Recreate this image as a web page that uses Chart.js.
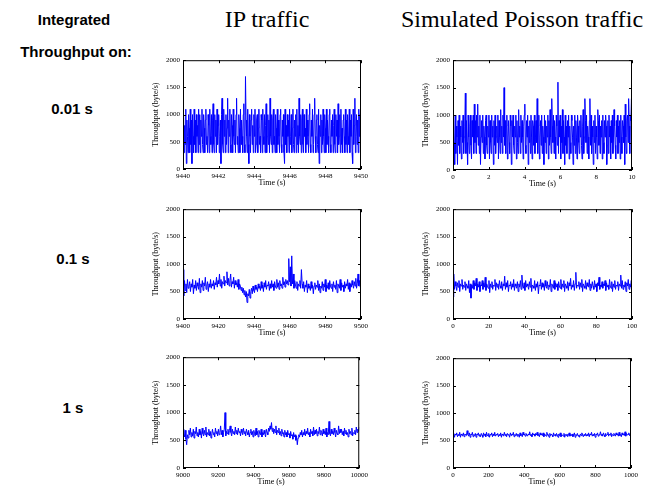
<!DOCTYPE html>
<html>
<head>
<meta charset="utf-8">
<script src="https://cdn.jsdelivr.net/npm/chart.js@4.4.0/dist/chart.umd.min.js"></script>
<style>
  body { margin: 0; background: #fff; }
  #page { position: relative; width: 646px; height: 489px; overflow: hidden; background: #fff; }
  .lbl { position: absolute; transform: translate(-50%, -50%); white-space: nowrap; color: #000;
         font-family: "Liberation Sans", Arial, sans-serif; font-weight: bold; font-size: 15px; }
  .ttl { position: absolute; transform: translate(-50%, -50%); white-space: nowrap; color: #000;
         font-family: "Liberation Serif", "Times New Roman", serif; font-size: 24px; }
  .plot { position: absolute; }
</style>
</head>
<body>
<div id="page">
  <div class="lbl" style="left:74px; top:19px;">Integrated</div>
  <div class="lbl" style="left:76px; top:51px;">Throughput on:</div>
  <div class="lbl" style="left:72px; top:108px;">0.01 s</div>
  <div class="lbl" style="left:73px; top:258px;">0.1 s</div>
  <div class="lbl" style="left:73px; top:407px;">1 s</div>
  <div class="ttl" style="left:267px; top:19px;">IP traffic</div>
  <div class="ttl" style="left:522px; top:19px;">Simulated Poisson traffic</div>
</div>

<script>
// throughput readings (byte/s)
const ipFine = [
  600, 1000, 300, 800, 450, 1100, 100, 900, 600, 300, 1000, 750, 300, 1100, 450, 900, 100, 1000, 600, 300,
  1100, 450, 900, 300, 1000, 600, 800, 300, 1100, 450, 1000, 300, 900, 600, 1100, 450, 300, 1000, 750, 300,
  900, 1100, 450, 600, 300, 1000, 800, 300, 1100, 600, 450, 1000, 300, 900, 1200, 450, 300, 1000, 600, 900,
  300, 1100, 450, 800, 1000, 300, 600, 900, 100, 1000, 1300, 450, 300, 1100, 600, 900, 300, 1000, 450, 750,
  1300, 300, 900, 600, 1100, 450, 300, 1000, 800, 300, 1100, 600, 450, 900, 300, 1000, 1300, 450, 600, 300,
  1000, 750, 300, 1100, 450, 900, 600, 300, 1000, 1200, 450, 300, 1700, 900, 600, 300, 1100, 450, 100, 1000,
  600, 300, 900, 1100, 450, 800, 300, 1000, 600, 1100, 300, 450, 900, 1000, 300, 750, 1100, 450, 600, 300,
  1000, 900, 300, 1100, 600, 450, 1000, 300, 800, 1200, 300, 600, 1000, 450, 900, 300, 1300, 600, 450, 1000,
  300, 900, 1100, 450, 600, 300, 1000, 750, 300, 1100, 450, 900, 600, 300, 1000, 1100, 450, 300, 900, 600,
  1000, 300, 100, 1100, 450, 800, 300, 1000, 600, 900, 300, 1100, 450, 600, 1000, 300, 750, 1100, 450, 300,
  900, 600, 1000, 300, 1100, 450, 800, 300, 1300, 600, 450, 1000, 300, 900, 1100, 450, 300, 1000, 600, 750,
  300, 1100, 450, 900, 600, 300, 1000, 1200, 450, 300, 900, 600, 1100, 300, 450, 1000, 1300, 600, 300, 900,
  1000, 450, 300, 1100, 100, 800, 600, 1000, 300, 900, 450, 1100, 600, 300, 1000, 750, 300, 1100, 450, 900,
  600, 300, 1000, 1100, 450, 300, 900, 600, 1000, 300, 800, 1100, 450, 300, 1000, 600, 900, 300, 1200, 450,
  600, 1000, 300, 1100, 450, 750, 300, 900, 1000, 600, 300, 1100, 450, 900, 300, 1000, 600, 450, 1100, 300,
  900, 600, 1000, 300, 100, 1100, 450, 800, 1300, 300, 600, 1000, 450, 900, 300, 1100, 600, 1000, 300, 700
];
const poFine = [
  200, 900, 500, 100, 1000, 300, 800, 600, 100, 900, 450, 1000, 300, 800, 600, 200, 900, 500, 1000, 300,
  600, 800, 1400, 300, 900, 500, 100, 1000, 600, 300, 800, 1000, 450, 200, 900, 600, 1000, 300, 1200, 500,
  900, 300, 1000, 600, 1200, 450, 800, 300, 1000, 100, 600, 900, 500, 1000, 300, 800, 600, 200, 900, 1000,
  450, 300, 800, 600, 1000, 200, 900, 500, 300, 1000, 600, 800, 100, 900, 450, 1000, 300, 600, 800, 500,
  1000, 200, 900, 600, 300, 1100, 500, 800, 300, 1000, 600, 1500, 450, 900, 300, 800, 1000, 200, 600, 900,
  500, 300, 1000, 800, 100, 900, 600, 1000, 450, 300, 800, 600, 1000, 200, 900, 500, 300, 1100, 600, 800,
  300, 1000, 500, 900, 600, 200, 800, 1000, 1200, 450, 300, 900, 600, 1000, 100, 800, 500, 900, 300, 1000,
  600, 200, 900, 800, 450, 1000, 300, 600, 900, 500, 1300, 300, 800, 1000, 200, 600, 900, 450, 1000, 300,
  800, 600, 100, 1000, 500, 900, 300, 800, 600, 1000, 200, 900, 450, 1100, 600, 300, 1300, 800, 500, 1000,
  300, 900, 600, 200, 1000, 800, 450, 1600, 300, 900, 600, 1000, 200, 800, 500, 1100, 300, 900, 600, 100,
  1000, 450, 800, 300, 900, 600, 1000, 200, 800, 500, 300, 1000, 900, 600, 100, 800, 450, 1000, 300, 900,
  600, 200, 1000, 800, 500, 300, 900, 600, 1000, 450, 200, 800, 1100, 300, 600, 1300, 900, 500, 1000, 300,
  800, 600, 200, 900, 1300, 450, 1000, 300, 800, 600, 100, 900, 500, 1000, 300, 800, 600, 200, 1100, 900,
  450, 1000, 300, 800, 600, 900, 200, 1000, 500, 300, 900, 600, 1000, 800, 100, 450, 900, 300, 1000, 600,
  800, 200, 900, 500, 1000, 300, 600, 1100, 800, 450, 200, 900, 600, 1000, 300, 800, 500, 900, 200, 1000,
  600, 300, 900, 800, 500, 1000, 100, 1200, 600, 300, 900, 1000, 500, 1300, 800, 300, 1000, 900, 1300, 600
];
const ipMid = [
  900, 420, 700, 520, 640, 480, 720, 560, 600, 680, 500, 640, 580, 720, 460, 620, 560, 700, 520, 660,
  600, 540, 740, 480, 640, 580, 700, 520, 660, 600, 760, 540, 620, 680, 500, 640, 580, 720, 560, 640,
  600, 700, 540, 660, 620, 760, 580, 700, 640, 820, 600, 720, 560, 680, 640, 780, 600, 700, 660, 860,
  620, 740, 600, 700, 820, 580, 680, 640, 760, 560, 700, 620, 660, 580, 720, 540, 640, 600, 520, 580,
  480, 560, 440, 520, 400, 500, 300, 460, 420, 540, 380, 500, 560, 460, 600, 520, 480, 620, 540, 580,
  500, 640, 560, 600, 520, 680, 560, 620, 500, 660, 580, 700, 540, 620, 600, 680, 520, 640, 560, 700,
  580, 640, 520, 680, 600, 560, 720, 580, 660, 540, 700, 600, 640, 560, 760, 620, 680, 580, 720, 640,
  700, 620, 1100, 680, 950, 600, 1150, 640, 820, 560, 700, 620, 560, 680, 520, 640, 600, 700, 560, 900,
  640, 560, 680, 500, 620, 580, 700, 480, 640, 560, 600, 520, 680, 560, 620, 460, 600, 660, 540, 620,
  580, 700, 520, 640, 480, 600, 560, 680, 520, 640, 580, 720, 500, 620, 560, 660, 540, 700, 600, 560,
  640, 500, 680, 580, 620, 540, 700, 480, 640, 600, 560, 720, 520, 660, 580, 620, 500, 680, 560, 640,
  600, 720, 540, 660, 500, 640, 580, 700, 620, 560, 680, 600, 740, 560, 640, 820, 600, 700, 580, 660
];
const poMid = [
  400, 820, 540, 680, 600, 520, 660, 580, 700, 500, 640, 600, 720, 540, 620, 580, 680, 520, 640, 600,
  560, 700, 480, 640, 380, 620, 560, 700, 540, 660, 600, 740, 520, 640, 580, 680, 500, 620, 600, 700,
  540, 660, 580, 760, 520, 640, 600, 560, 700, 480, 640, 580, 680, 540, 620, 600, 720, 520, 660, 580,
  640, 540, 700, 600, 560, 680, 520, 640, 600, 780, 540, 660, 580, 700, 500, 620, 600, 680, 540, 640,
  580, 720, 520, 640, 600, 560, 680, 500, 640, 580, 700, 540, 800, 600, 560, 660, 520, 700, 580, 640,
  600, 540, 680, 580, 740, 500, 620, 600, 560, 700, 520, 640, 580, 680, 460, 620, 600, 720, 540, 660,
  580, 640, 520, 700, 600, 560, 680, 540, 620, 580, 720, 500, 640, 600, 560, 700, 540, 660, 580, 640,
  520, 680, 600, 560, 720, 540, 640, 580, 700, 500, 640, 600, 560, 680, 520, 660, 600, 740, 540, 620,
  580, 700, 520, 640, 850, 560, 620, 600, 680, 540, 660, 580, 720, 500, 640, 600, 560, 700, 540, 660,
  600, 580, 720, 520, 640, 560, 680, 600, 540, 700, 580, 640, 500, 660, 600, 760, 540, 620, 580, 680,
  560, 640, 600, 700, 520, 660, 580, 620, 540, 720, 600, 560, 680, 500, 640, 580, 700, 540, 620, 600,
  680, 520, 640, 600, 800, 560, 700, 540, 620, 580, 680, 500, 660, 600, 720, 540, 640, 580, 700, 620
];
const ipCoarse = [
  700, 620, 560, 680, 520, 420, 600, 540, 680, 600, 720, 560, 640, 580, 700, 540, 660, 620, 740, 580,
  640, 560, 700, 600, 660, 540, 720, 620, 580, 680, 600, 740, 560, 640, 600, 700, 580, 660, 540, 620,
  700, 600, 640, 560, 720, 620, 660, 580, 700, 600, 640, 760, 600, 680, 560, 640, 700, 1000, 580, 660,
  620, 700, 600, 680, 760, 640, 580, 700, 620, 660, 600, 740, 620, 680, 600, 720, 640, 660, 580, 700,
  640, 600, 720, 620, 660, 580, 700, 640, 600, 680, 560, 640, 700, 600, 660, 560, 680, 620, 580, 720,
  600, 660, 560, 680, 620, 600, 700, 560, 640, 600, 680, 620, 560, 700, 640, 600, 720, 660, 760, 700,
  820, 660, 720, 620, 700, 640, 760, 600, 680, 640, 720, 600, 660, 580, 700, 620, 640, 560, 680, 600,
  640, 560, 680, 600, 620, 540, 660, 580, 600, 520, 640, 560, 600, 500, 580, 420, 540, 600, 560, 640,
  600, 680, 560, 640, 600, 700, 580, 660, 620, 720, 600, 640, 560, 700, 620, 660, 580, 740, 600, 680,
  620, 700, 580, 660, 620, 740, 600, 680, 640, 580, 700, 620, 660, 600, 720, 560, 640, 600, 840, 620,
  580, 700, 620, 660, 600, 720, 640, 560, 680, 620, 600, 760, 620, 700, 640, 700, 600, 660, 580, 720,
  620, 680, 600, 640, 560, 700, 620, 660, 600, 720, 580, 640, 620, 680, 600, 740, 640, 700, 660, 740
];
const poCoarse = [
  580, 630, 560, 620, 600, 640, 570, 610, 590, 650, 560, 620, 600, 580, 640, 570, 620, 600, 590, 680,
  610, 580, 640, 560, 620, 600, 650, 570, 610, 590, 630, 560, 620, 600, 640, 580, 610, 570, 630, 600,
  560, 640, 590, 620, 570, 650, 600, 580, 630, 560, 610, 600, 640, 570, 620, 590, 650, 580, 610, 600,
  630, 570, 610, 590, 640, 560, 620, 600, 580, 650, 590, 620, 570, 630, 600, 610, 560, 640, 590, 620,
  600, 650, 570, 610, 590, 630, 580, 620, 600, 560, 640, 590, 610, 570, 650, 600, 620, 580, 630, 600,
  580, 620, 600, 660, 590, 610, 570, 640, 600, 620, 580, 630, 600, 650, 590, 610, 570, 640, 600, 620,
  590, 640, 570, 620, 600, 580, 650, 600, 610, 560, 630, 590, 620, 600, 570, 640, 590, 610, 580, 630,
  600, 560, 620, 590, 640, 570, 610, 600, 580, 630, 560, 610, 590, 620, 570, 600, 640, 580, 610, 590,
  620, 570, 600, 640, 560, 610, 590, 630, 580, 600, 560, 620, 590, 640, 600, 570, 610, 590, 630, 580,
  610, 590, 640, 570, 620, 600, 650, 580, 610, 590, 630, 560, 620, 600, 640, 580, 610, 600, 660, 590,
  620, 580, 640, 600, 570, 630, 590, 610, 650, 580, 620, 600, 640, 570, 610, 590, 630, 600, 580, 640,
  600, 620, 580, 650, 590, 610, 570, 640, 600, 620, 590, 660, 580, 630, 600, 610, 640, 590, 620, 600
];

// time ranges shown on each x axis
const ipFineRange = [9440, 9450];
const poFineRange = [0, 10];
const ipMidRange = [9400, 9500];
const poMidRange = [0, 100];
const ipCoarseRange = [9000, 10000];
const poCoarseRange = [0, 1000];
const yTicks = [0, 500, 1000, 1500, 2000];

const PAD_L = 32, PAD_T = 6, PAD_R = 9, PAD_B = 19;
const serif = '"Liberation Serif", "Times New Roman", serif';

const plots = [
  { left: 183, top: 59,  w: 179, h: 110, values: ipFine,   range: ipFineRange,   step: 2 },
  { left: 453, top: 59,  w: 179, h: 111, values: poFine,   range: poFineRange,   step: 2 },
  { left: 183, top: 208, w: 179, h: 111, values: ipMid,    range: ipMidRange,    step: 20 },
  { left: 453, top: 208, w: 179, h: 111, values: poMid,    range: poMidRange,    step: 20 },
  { left: 183, top: 356, w: 179, h: 112, values: ipCoarse, range: ipCoarseRange, step: 200 },
  { left: 453, top: 357, w: 179, h: 111, values: poCoarse, range: poCoarseRange, step: 200 }
];

// matlab style frame with inward ticks
const framePlugin = {
  id: 'frame',
  afterDraw(chart) {
    const { ctx, chartArea: a, scales } = chart;
    ctx.save();
    ctx.strokeStyle = '#000';
    ctx.lineWidth = 1;
    ctx.strokeRect(a.left + 0.5, a.top + 0.5, a.right - a.left - 1, a.bottom - a.top - 1);
    ctx.beginPath();
    scales.x.ticks.forEach(t => {
      const px = Math.round(scales.x.getPixelForValue(t.value)) + 0.5;
      ctx.moveTo(px, a.bottom); ctx.lineTo(px, a.bottom - 3);
      ctx.moveTo(px, a.top); ctx.lineTo(px, a.top + 3);
    });
    scales.y.ticks.forEach(t => {
      const py = Math.round(scales.y.getPixelForValue(t.value)) + 0.5;
      ctx.moveTo(a.left, py); ctx.lineTo(a.left + 3, py);
      ctx.moveTo(a.right, py); ctx.lineTo(a.right - 3, py);
    });
    ctx.stroke();
    ctx.restore();
  }
};

const page = document.getElementById('page');

plots.forEach(p => {
  const W = p.w + PAD_L + PAD_R, H = p.h + PAD_T + PAD_B;
  const box = document.createElement('div');
  box.className = 'plot';
  box.style.left = (p.left - PAD_L) + 'px';
  box.style.top = (p.top - PAD_T) + 'px';
  box.style.width = W + 'px';
  box.style.height = H + 'px';
  const canvas = document.createElement('canvas');
  canvas.width = W;
  canvas.height = H;
  box.appendChild(canvas);
  page.appendChild(box);

  const t0 = p.range[0], dt = (p.range[1] - p.range[0]) / (p.values.length - 1);
  const points = p.values.map((v, i) => ({ x: t0 + i * dt, y: v }));

  new Chart(canvas, {
    type: 'line',
    data: {
      datasets: [{
        data: points,
        borderColor: '#0000ff',
        borderWidth: 1,
        pointRadius: 0,
        tension: 0,
        fill: false
      }]
    },
    options: {
      responsive: false,
      animation: false,
      events: [],
      layout: { padding: { top: PAD_T, right: PAD_R, left: 0, bottom: 0 } },
      plugins: { legend: { display: false }, tooltip: { enabled: false } },
      scales: {
        x: {
          type: 'linear',
          min: p.range[0],
          max: p.range[1],
          grid: { display: false, drawTicks: false },
          border: { display: false },
          ticks: { stepSize: p.step, autoSkip: false, maxRotation: 0, padding: 3, color: '#000',
                   font: { family: serif, size: 7 }, callback: v => String(v) },
          title: { display: true, text: 'Time (s)', color: '#000', font: { family: serif, size: 8 }, padding: { top: 0, bottom: 0 } },
          afterFit: s => { s.height = PAD_B; }
        },
        y: {
          min: 0,
          max: 2000,
          grid: { display: false, drawTicks: false },
          border: { display: false },
          afterBuildTicks: s => { s.ticks = yTicks.map(v => ({ value: v })); },
          ticks: { padding: 3, color: '#000', font: { family: serif, size: 7 }, callback: v => String(v) },
          title: { display: true, text: 'Throughput (byte/s)', color: '#000', font: { family: serif, size: 8 }, padding: { top: 0, bottom: 1 } },
          afterFit: s => { s.width = PAD_L; }
        }
      }
    },
    plugins: [framePlugin]
  });
});
</script>
</body>
</html>
